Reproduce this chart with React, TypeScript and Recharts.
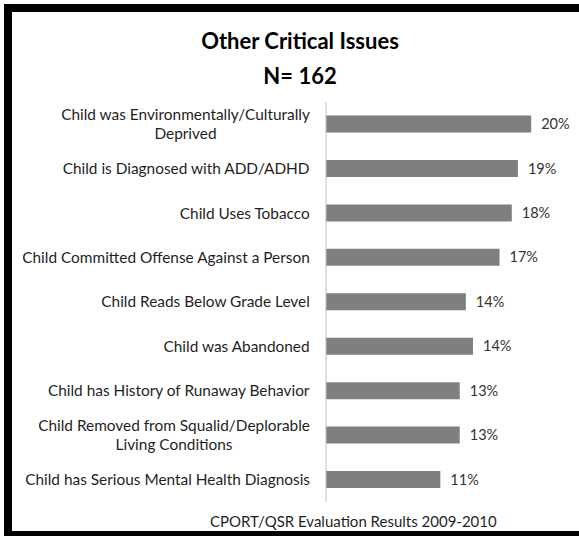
import React from "react";
import { BarChart, Bar, XAxis, YAxis, LabelList } from "recharts";

const CATEGORIES = [
  "Child was Environmentally/Culturally\nDeprived",
  "Child is Diagnosed with ADD/ADHD",
  "Child Uses Tobacco",
  "Child Committed Offense Against a Person",
  "Child Reads Below Grade Level",
  "Child was Abandoned",
  "Child has History of Runaway Behavior",
  "Child Removed from Squalid/Deplorable\nLiving Conditions",
  "Child has Serious Mental Health Diagnosis",
];

// percent of the 162 cases
const VALUES = [20.1, 18.8, 18.2, 17.0, 13.7, 14.4, 13.1, 13.1, 11.2];

const X_DOMAIN: [number, number] = [0, 24];

const data = CATEGORIES.map((name, i) => ({ name, value: VALUES[i] }));

const FONT = "Lato, 'Open Sans', sans-serif";
const TICK_SIZE = 15.4;

let ctx: CanvasRenderingContext2D | null = null;
function textWidth(s: string) {
  if (!ctx) ctx = document.createElement("canvas").getContext("2d");
  if (!ctx) return s.length * 7;
  ctx.font = `${TICK_SIZE}px Lato`;
  return ctx.measureText(s).width;
}

const CategoryTick = (props: any) => {
  const { x, y, payload } = props;
  const lines: string[] = String(payload.value).split("\n");
  const maxW = Math.max(...lines.map(textWidth));
  const right = x - 8;
  const cx = right - maxW / 2;
  const lh = 19;
  const top = y - ((lines.length - 1) * lh) / 2;
  return (
    <text
      x={cx}
      y={top}
      textAnchor="middle"
      fill="#1f1f1f"
      fontSize={TICK_SIZE}
      fontFamily={FONT}
    >
      {lines.map((l, i) => (
        <tspan key={i} x={cx} y={top + i * lh} dy="0.35em">
          {l}
        </tspan>
      ))}
    </text>
  );
};

export default function App() {
  return (
    <div
      style={{
        position: "absolute",
        left: 0,
        top: 0,
        width: 579,
        height: 536,
        overflow: "hidden",
        background: "#fff",
        fontFamily: FONT,
      }}
    >
      <div
        style={{
          position: "absolute",
          left: 4,
          top: 4,
          width: 620,
          height: 532,
          boxSizing: "border-box",
          borderTop: "8px solid #000",
          borderLeft: "8px solid #000",
          borderBottom: "5px solid #000",
        }}
      />
      <div
        style={{
          position: "absolute",
          left: 0,
          width: 600,
          top: 23,
          textAlign: "center",
          fontSize: 22,
          fontWeight: 700,
          lineHeight: "35px",
          color: "#000",
        }}
      >
        Other Critical Issues
        <br />
        N= 162
      </div>
      <BarChart
        width={579}
        height={536}
        data={data}
        layout="vertical"
        margin={{ top: 102, right: 8, bottom: 34, left: 0 }}
        barCategoryGap={13.5}
        style={{ position: "absolute", left: 0, top: 0 }}
      >
        <XAxis type="number" domain={X_DOMAIN} hide />
        <YAxis
          type="category"
          dataKey="name"
          width={326}
          axisLine={{ stroke: "#bfbfbf" }}
          tickLine={false}
          tick={<CategoryTick />}
          interval={0}
        />
        <Bar dataKey="value" fill="#7f7f7f" isAnimationActive={false}>
          <LabelList
            dataKey="value"
            position="right"
            offset={10}
            formatter={(v: any) => `${Math.round(Number(v))}%`}
            style={{ fill: "#333", fontSize: 14.5, fontFamily: FONT }}
          />
        </Bar>
      </BarChart>
      <div
        style={{
          position: "absolute",
          left: 210,
          top: 512,
          fontSize: 15,
          color: "#1f1f1f",
          whiteSpace: "nowrap",
        }}
      >
        CPORT/QSR Evaluation Results 2009-2010
      </div>
    </div>
  );
}
